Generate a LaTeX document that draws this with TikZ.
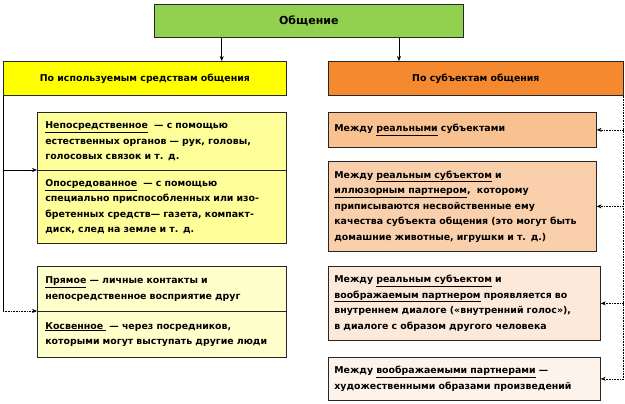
\documentclass[tikz,border=0pt]{standalone}
\usepackage{fontspec}
\setmainfont{DejaVu Sans}
\usetikzlibrary{arrows.meta}
\definecolor{cgreen}{HTML}{92D050}
\definecolor{cyel}{HTML}{FFFF00}
\definecolor{cor}{HTML}{F4892F}
\definecolor{ly1}{HTML}{FFFF99}
\definecolor{ly2}{HTML}{FFFFCC}
\definecolor{o1}{HTML}{F9C090}
\definecolor{o2}{HTML}{FAD0AC}
\definecolor{o3}{HTML}{FCE9DA}
\definecolor{o4}{HTML}{FDF3EA}
\tikzset{
 bx/.style={draw=black!85, line width=0.7pt, inner sep=0pt, font=\bfseries\fontsize{9.4}{15.5}\selectfont},
 ar/.style={-{Stealth[length=5pt,width=4pt]}, line width=0.6pt},
 dar/.style={ar, densely dotted},
}
\begin{document}
\begin{tikzpicture}[x=1pt,y=1pt]
\useasboundingbox (0,0) rectangle (625,-404);
% boxes
\node[bx, fill=cgreen, minimum width=309pt, minimum height=33pt, anchor=north west, font=\bfseries\fontsize{11}{13}\selectfont] (top) at (154,-4) {Общение};
\node[bx, fill=cyel, minimum width=283pt, minimum height=34pt, anchor=north west] (L) at (3,-61) {По используемым средствам общения};
\node[bx, fill=cor, minimum width=295pt, minimum height=34pt, anchor=north west] (R) at (328,-61) {По субъектам общения};
% left group
\node[bx, fill=ly1, minimum width=249pt, minimum height=58pt, anchor=north west, align=left, text width=233pt, inner xsep=8pt] (l1) at (37,-112) {\underline{Непосредственное} \ — с помощью\\естественных органов — рук, головы,\\голосовых связок и т. д.};
\node[bx, fill=ly1, minimum width=249pt, minimum height=73pt, anchor=north west, align=left, text width=233pt, inner xsep=8pt] (l2) at (37,-170) {\underline{Опосредованное} \ — с помощью\\специально приспособленных или изо-\\бретенных средств— газета, компакт-\\диск, след на земле и т. д.};
\node[bx, fill=ly2, minimum width=249pt, minimum height=45pt, anchor=north west, align=left, text width=233pt, inner xsep=8pt] (l3) at (37,-266) {\underline{Прямое} — личные контакты и\\непосредственное восприятие друг};
\node[bx, fill=ly2, minimum width=249pt, minimum height=46pt, anchor=north west, align=left, text width=233pt, inner xsep=8pt] (l4) at (37,-311) {\underline{Косвенное } — через посредников,\\которыми могут выступать другие люди};
% right group
\node[bx, fill=o1, minimum width=268pt, minimum height=35pt, anchor=north west, align=left, text width=256pt, inner xsep=6pt] (r1) at (328,-112) {Между \underline{реальными} субъектами};
\node[bx, fill=o2, minimum width=268pt, minimum height=90pt, anchor=north west, align=left, text width=256pt, inner xsep=6pt] (r2) at (328,-161) {Между \underline{реальным субъектом} и\\\underline{иллюзорным партнером}, \ которому\\приписываются несвойственные ему\\качества субъекта общения (это могут быть\\домашние животные, игрушки и т. д.)};
\node[bx, fill=o3, minimum width=272pt, minimum height=74pt, anchor=north west, align=left, text width=260pt, inner xsep=6pt] (r3) at (328,-266) {Между \underline{реальным субъектом} и\\\underline{воображаемым партнером} проявляется во\\внутреннем диалоге («внутренний голос»),\\в диалоге с образом другого человека};
\node[bx, fill=o4, minimum width=272pt, minimum height=43pt, anchor=north west, align=left, text width=260pt, inner xsep=6pt] (r4) at (328,-357) {Между \underline{воображаемыми партнерами} —\\художественными образами произведений};
% connectors
\draw[ar] (top.south -| L.north east) ++(-65,0) coordinate (a1) -- (a1 |- L.north);
\draw[ar] (top.south -| R.north west) ++(71,0) coordinate (a2) -- (a2 |- R.north);
\coordinate (lt) at (L.south west);
\draw[line width=0.6pt] (lt) -- (lt |- l2.north);
\draw[ar] (lt |- l2.north) -- (l2.north west);
\draw[line width=0.6pt] (lt |- l2.north) -- (lt |- l4.north);
\draw[dar] (lt |- l4.north) -- (l4.north west);
\coordinate (rt) at (R.south east);
\draw[densely dotted, line width=0.6pt] (rt) -- (rt |- r4.east);
\draw[dar] (rt |- r1.east) -- (r1.east);
\draw[dar] (rt |- r2.east) -- (r2.east);
\draw[dar] (rt |- r3.east) -- (r3.east);
\draw[dar] (rt |- r4.east) -- (r4.east);
\end{tikzpicture}
\end{document}
